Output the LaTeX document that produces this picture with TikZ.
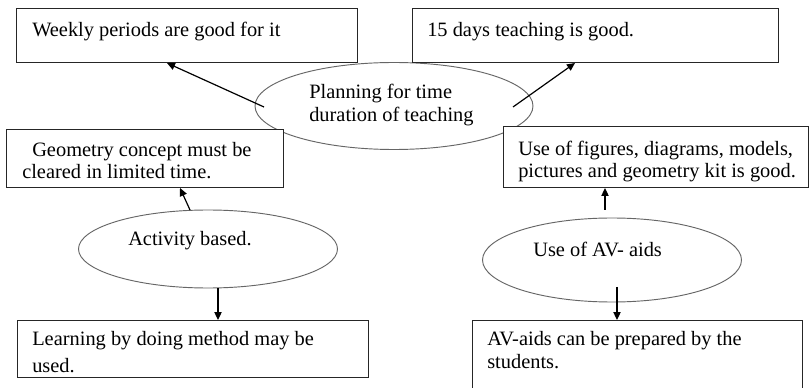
\documentclass[tikz,border=0pt]{standalone}
\usepackage{fontspec}
\setmainfont{Liberation Serif}
\usetikzlibrary{shapes.geometric,arrows.meta,calc}

\begin{document}
\begin{tikzpicture}[x=0.75pt,y=-0.75pt,
  box/.style={draw=black!85, line width=0.75pt, fill=white, anchor=north west,
              inner sep=0pt, outer sep=0pt},
  oval/.style={ellipse, draw=black!60, line width=0.7pt, fill=white,
               inner sep=0pt, outer sep=0pt},
  txt/.style={anchor=base west, inner sep=0pt, font=\fontsize{15.3}{18}\selectfont},
  arr/.style={-{Triangle[length=6pt,width=5.5pt]}, line width=0.9pt}]

\clip (0,0) rectangle (810,388);
\fill[white] (0,0) rectangle (810,388);

% central topic and its two sub-topics
\node[oval, minimum width=278*0.75pt, minimum height=87*0.75pt] (pl) at (394,106) {};
\node[oval, minimum width=259*0.75pt, minimum height=78*0.75pt] (ac) at (208,249) {};
\node[oval, minimum width=259*0.75pt, minimum height=84*0.75pt] (av) at (612,260) {};

% statement boxes
\node[box, minimum width=341*0.75pt, minimum height=54*0.75pt] (b1) at (16,9) {};
\node[box, minimum width=366*0.75pt, minimum height=54*0.75pt] (b2) at (412,9) {};
\node[box, minimum width=277*0.75pt, minimum height=58*0.75pt] (b3) at (6,130) {};
\node[box, minimum width=305*0.75pt, minimum height=61*0.75pt] (b4) at (503,127) {};
\node[box, minimum width=351*0.75pt, minimum height=57*0.75pt] (b5) at (17,320) {};
\node[box, minimum width=330*0.75pt, minimum height=80*0.75pt] (b6) at (472,320) {};

% connectors
\draw[arr] ($(pl.west)+(9,1)$) -- ($(b1.south west)+(151,0)$);
\draw[arr] ($(pl.center)+(119,1)$) -- ($(b2.south west)+(163,0)$);
\draw[arr] ($(ac.north)+(-18,0)$) -- ($(b3.south west)+(174,0)$);
\draw[arr] ($(ac.south)+(10,0)$) -- ($(b5.north west)+(201,0)$);
\draw[arr] ($(av.north)+(-7,-8)$) -- ($(b4.south west)+(102,0)$);
\draw[arr] ($(av.south)+(5,-15)$) -- ($(b6.north west)+(145,0)$);

% texts
\node[txt] (t1) at (32,37) {Weekly periods are good for it};
\node[txt] (t2) at (427,37) {15 days teaching is good.};
\node[txt] (t3a) at (309,99) {Planning for time};
\node[txt] (t3b) at (309,122) {duration of teaching};
\node[txt] (t4a) at (32,157) {Geometry concept must be};
\node[txt] (t4b) at (22,179) {cleared in limited time.};
\node[txt] (t5a) at (518,156) {Use of figures, diagrams, models,};
\node[txt] (t5b) at (518,178) {pictures and geometry kit is good.};
\node[txt] (t6) at (128,246) {Activity based.};
\node[txt] (t7) at (533,257) {Use of AV- aids};
\node[txt] (t8a) at (32,345) {Learning by doing method may be};
\node[txt] (t8b) at (32,372) {used.};
\node[txt] (t9a) at (487,345) {AV-aids can be prepared by the};
\node[txt] (t9b) at (487,368) {students.};
\end{tikzpicture}
\end{document}
